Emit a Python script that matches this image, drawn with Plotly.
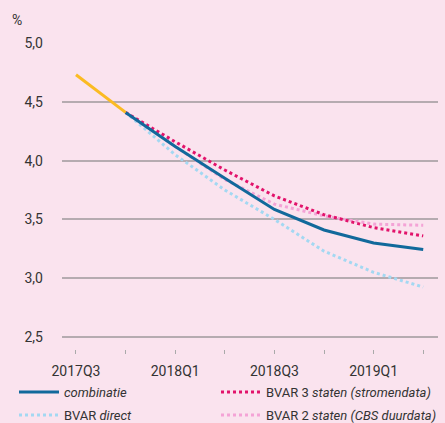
import plotly.graph_objects as go

quarters = ["2017Q3", "2017Q4", "2018Q1", "2018Q2", "2018Q3", "2018Q4", "2019Q1", "2019Q2"]
tick_labels = ["2017Q3", "", "2018Q1", "", "2018Q3", "", "2019Q1", ""]
y_ticks = [2.5, 3.0, 3.5, 4.0, 4.5, 5.0]
y_tick_labels = ["2,5", "3,0", "3,5", "4,0", "4,5", "5,0"]

realised_q = ["2017Q3", "2017Q4"]
realised = [4.73, 4.41]

fc_q = ["2017Q4", "2018Q1", "2018Q2", "2018Q3", "2018Q4", "2019Q1", "2019Q2"]
combinatie = [4.41, 4.12, 3.85, 3.585, 3.41, 3.30, 3.245]
bvar_direct = [4.41, 4.05, 3.75, 3.50, 3.23, 3.05, 2.925]
bvar3 = [4.41, 4.16, 3.92, 3.70, 3.54, 3.43, 3.36]
bvar2 = [4.41, 4.12, 3.84, 3.63, 3.53, 3.46, 3.45]

idx = {q: i for i, q in enumerate(quarters)}
xr = [idx[q] for q in realised_q]
xf = [idx[q] for q in fc_q]

BG = "#fae3ee"
fig = go.Figure()
fig.add_trace(go.Scatter(x=xf, y=bvar_direct, mode="lines", name="BVAR <i>direct</i>",
                         line=dict(color="#a3d8f2", width=3, dash="3px,3px"), legend="legend3"))
fig.add_trace(go.Scatter(x=xf, y=bvar2, mode="lines", name="BVAR 2 <i>staten (CBS duurdata)</i>",
                         line=dict(color="#f4a3d6", width=3, dash="3px,3px"), legend="legend4"))
fig.add_trace(go.Scatter(x=xf, y=bvar3, mode="lines", name="BVAR 3 <i>staten (stromendata)</i>",
                         line=dict(color="#e2136b", width=3, dash="3px,3px"), legend="legend2"))
fig.add_trace(go.Scatter(x=xf, y=combinatie, mode="lines", name="<i>combinatie</i>",
                         line=dict(color="#11699b", width=3), legend="legend"))
fig.add_trace(go.Scatter(x=xr, y=realised, mode="lines", showlegend=False,
                         line=dict(color="#fbbb22", width=3)))

L, T, PW, PH = 62, 43, 376, 306


def px_to_paper(xp, yp):
    return (xp - L) / PW, 1 - (yp - T) / PH


def leg(xp, yp):
    x, y = px_to_paper(xp, yp)
    return dict(x=x, y=y, xanchor="left", yanchor="middle", orientation="v",
                itemwidth=40, font=dict(size=13, color="#333333"),
                bgcolor="rgba(0,0,0,0)", borderwidth=0)


pct_x, pct_y = px_to_paper(17, 20)

fig.update_layout(
    width=445, height=423,
    margin=dict(l=L, r=445 - L - PW, t=T, b=423 - T - PH, autoexpand=False),
    paper_bgcolor=BG, plot_bgcolor=BG,
    font=dict(family="Roboto", size=14, color="#333333"),
    xaxis=dict(range=[-0.282, 7.298], tickvals=list(range(len(quarters))), ticktext=tick_labels,
               showgrid=False, zeroline=False, showline=False, ticks="outside", ticklen=4,
               tickcolor="#aaaaaa", tickwidth=1, tickfont=dict(size=14), fixedrange=True,
               ticklabelstandoff=5),
    yaxis=dict(range=[2.398, 5.0], tickvals=y_ticks, ticktext=y_tick_labels,
               showgrid=True, gridcolor="#b5abb0", gridwidth=1.5, zeroline=False,
               showline=False, ticks="", ticklabelstandoff=18, tickfont=dict(size=14),
               fixedrange=True),
    legend=leg(14, 392),
    legend2=leg(216, 392),
    legend3=leg(14, 415),
    legend4=leg(216, 415),
    showlegend=True,
    annotations=[dict(text="%", xref="paper", yref="paper", x=pct_x, y=pct_y,
                      xanchor="center", yanchor="middle", showarrow=False,
                      font=dict(size=14, color="#333333"))],
)

fig.write_html("out.html", config={"displayModeBar": False},
               post_script="document.body.style.margin='0px';")
